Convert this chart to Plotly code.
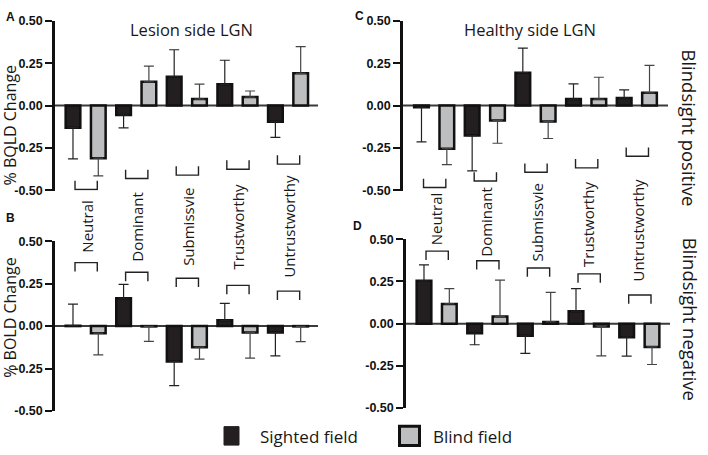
import plotly.graph_objects as go

W, H = 708, 455

# ---------------- data ----------------
categories = ["Neutral", "Dominant", "Submissvie", "Trustworthy", "Untrustworthy"]
ticks = [-0.5, -0.25, 0.0, 0.25, 0.5]
tick_text = ["-0.50", "-0.25", "0.00", "0.25", "0.50"]

# Panel A: Lesion side LGN, Blindsight positive
A_sighted = [-0.13, -0.055, 0.17, 0.125, -0.095]
A_sighted_sem = [0.184, 0.077, 0.159, 0.142, 0.093]
A_blind = [-0.31, 0.14, 0.038, 0.05, 0.19]
A_blind_sem = [0.104, 0.092, 0.088, 0.036, 0.158]

# Panel B: Lesion side LGN, Blindsight negative
B_sighted = [0.002, 0.164, -0.208, 0.034, -0.038]
B_sighted_sem = [0.128, 0.082, 0.143, 0.100, 0.138]
B_blind = [-0.042, -0.002, -0.124, -0.038, -0.002]
B_blind_sem = [0.128, 0.088, 0.071, 0.151, 0.090]

# Panel C: Healthy side LGN, Blindsight positive
C_sighted = [-0.01, -0.177, 0.194, 0.038, 0.045]
C_sighted_sem = [0.204, 0.208, 0.144, 0.090, 0.047]
C_blind = [-0.254, -0.088, -0.094, 0.038, 0.075]
C_blind_sem = [0.094, 0.134, 0.100, 0.129, 0.162]

# Panel D: Healthy side LGN, Blindsight negative
D_sighted = [0.254, -0.057, -0.072, 0.074, -0.080]
D_sighted_sem = [0.094, 0.068, 0.104, 0.134, 0.113]
D_blind = [0.117, 0.042, 0.010, -0.017, -0.138]
D_blind_sem = [0.091, 0.216, 0.176, 0.174, 0.104]

SIGHTED_COLOR = "#231f20"
BLIND_COLOR = "#bcbec0"


def px(x):
    return x / W


def py(y):
    return 1 - y / H


# ---------------- layout config ----------------
panels = [
    dict(s="", letter="A", sighted=A_sighted, ssem=A_sighted_sem, blind=A_blind, bsem=A_blind_sem,
         xdom=[55, 318], ydom=[15, 190], xr=[-0.711, 9.684],
         br=[-0.495, -0.43, -0.41, -0.375, -0.345], br_dir=1, letter_pos=(10, 11)),
    dict(s="2", letter="B", sighted=B_sighted, ssem=B_sighted_sem, blind=B_blind, bsem=B_blind_sem,
         xdom=[55, 318], ydom=[242, 417], xr=[-0.711, 9.684],
         br=[0.374, 0.317, 0.282, 0.240, 0.206], br_dir=-1, letter_pos=(10, 218)),
    dict(s="3", letter="C", sighted=C_sighted, ssem=C_sighted_sem, blind=C_blind, bsem=C_blind_sem,
         xdom=[403, 668], ydom=[15, 190], xr=[-0.73, 9.73],
         br=[-0.483, -0.445, -0.393, -0.367, -0.299], br_dir=1, letter_pos=(359, 10)),
    dict(s="4", letter="D", sighted=D_sighted, ssem=D_sighted_sem, blind=D_blind, bsem=D_blind_sem,
         xdom=[406, 670], ydom=[240, 414], xr=[-0.71, 9.71],
         br=[0.430, 0.373, 0.330, 0.295, 0.170], br_dir=-1, letter_pos=(357, 226)),
]

fig = go.Figure()
shapes = []
annotations = []
layout_axes = {}


def split_err(vals, sem):
    plus = [e if v >= 0 else 0 for v, e in zip(vals, sem)]
    minus = [e if v < 0 else 0 for v, e in zip(vals, sem)]
    return plus, minus


for p in panels:
    s = p["s"]
    xs_s = [2 * i for i in range(len(categories))]
    xs_b = [2 * i + 1 for i in range(len(categories))]
    for xs, vals, sem, col, ecol in [
        (xs_s, p["sighted"], p["ssem"], SIGHTED_COLOR, "#222222"),
        (xs_b, p["blind"], p["bsem"], BLIND_COLOR, "#444444"),
    ]:
        plus, minus = split_err(vals, sem)
        fig.add_trace(go.Bar(
            x=xs, y=vals, width=0.58,
            marker=dict(color=col, line=dict(color="#111111", width=2.5)),
            error_y=dict(type="data", symmetric=False, array=plus, arrayminus=minus,
                         color=ecol, thickness=1.2, width=5),
            xaxis="x" + s, yaxis="y" + s, showlegend=False, hoverinfo="skip",
        ))

    layout_axes["xaxis" + s] = dict(
        domain=[px(p["xdom"][0]), px(p["xdom"][1])], range=p["xr"],
        visible=False, anchor="y" + s, fixedrange=True)
    layout_axes["yaxis" + s] = dict(
        domain=[py(p["ydom"][1]), py(p["ydom"][0])], range=[-0.501, 0.501],
        anchor="x" + s, showline=True, linewidth=2.5, linecolor="#111111",
        ticks="outside", ticklen=7, tickwidth=2, tickcolor="#111111",
        tickvals=ticks, ticktext=[f"<b>{t}</b>" for t in tick_text],
        showgrid=False, zeroline=False,
        tickfont=dict(family="Liberation Sans, Arial", size=12.5, color="#111111"),
        fixedrange=True)

    # zero line
    shapes.append(dict(type="line", xref="x" + s + " domain", x0=0, x1=1,
                       yref="y" + s, y0=0, y1=0, layer="below",
                       line=dict(color="#3a3a3a", width=2)))

    # brackets
    for i, yl in enumerate(p["br"]):
        x0, x1 = 2 * i + 0.08, 2 * i + 0.96
        yt = yl + p["br_dir"] * 0.052
        shapes.append(dict(type="path", xref="x" + s, yref="y" + s,
                           path=f"M {x0},{yt} L {x0},{yl} L {x1},{yl} L {x1},{yt}",
                           line=dict(color="#222222", width=1.4)))

    # panel letter
    annotations.append(dict(text=f"<b>{p['letter']}</b>", xref="paper", yref="paper",
                            x=px(p["letter_pos"][0]), y=py(p["letter_pos"][1]),
                            showarrow=False, xanchor="center", yanchor="middle",
                            font=dict(family="Liberation Sans, Arial", size=12, color="#111111")))

# category labels between rows
left_label_y = [227, 227.5, 227, 227, 226.5]
right_label_y = [219, 222, 223, 225, 231]
for i, cat in enumerate(categories):
    annotations.append(dict(text=cat, xref="x", yref="paper", x=2 * i + 0.52, y=py(left_label_y[i]),
                            textangle=-90, showarrow=False, xanchor="center", yanchor="middle",
                            font=dict(family="Open Sans", size=15, color="#1a1718")))
    annotations.append(dict(text=cat, xref="x3", yref="paper", x=2 * i + 0.55, y=py(right_label_y[i]),
                            textangle=-90, showarrow=False, xanchor="center", yanchor="middle",
                            font=dict(family="Open Sans", size=15, color="#1a1718")))

text_font = dict(family="Open Sans", color="#1a1718")
# panel titles
annotations.append(dict(text="Lesion side LGN", xref="paper", yref="paper", x=px(191), y=py(24),
                        showarrow=False, xanchor="center", yanchor="middle", font=dict(size=16.5, **text_font)))
annotations.append(dict(text="Healthy side LGN", xref="paper", yref="paper", x=px(530), y=py(24),
                        showarrow=False, xanchor="center", yanchor="middle", font=dict(size=16.5, **text_font)))
# y titles
for yc in (123, 321):
    annotations.append(dict(text="% BOLD Change", xref="paper", yref="paper", x=px(10), y=py(yc),
                            textangle=-90, showarrow=False, xanchor="center", yanchor="middle",
                            font=dict(size=16, **text_font)))
# row labels on the right
annotations.append(dict(text="Blindsight positive", xref="paper", yref="paper", x=px(690), y=py(125),
                        textangle=90, showarrow=False, xanchor="center", yanchor="middle",
                        font=dict(size=18.5, **text_font)))
annotations.append(dict(text="Blindsight negative", xref="paper", yref="paper", x=px(690), y=py(322),
                        textangle=90, showarrow=False, xanchor="center", yanchor="middle",
                        font=dict(size=18.5, **text_font)))

# legend
shapes.append(dict(type="rect", xref="paper", yref="paper", x0=px(224), x1=px(239), y0=py(452), y1=py(433),
                   fillcolor=SIGHTED_COLOR, line=dict(color=SIGHTED_COLOR, width=1)))
shapes.append(dict(type="rect", xref="paper", yref="paper", x0=px(399.5), x1=px(419.5), y0=py(452.5), y1=py(432.5),
                   fillcolor=BLIND_COLOR, line=dict(color="#111111", width=3)))
annotations.append(dict(text="Sighted field", xref="paper", yref="paper", x=px(258), y=py(443),
                        showarrow=False, xanchor="left", yanchor="middle", font=dict(size=17, **text_font)))
annotations.append(dict(text="Blind field", xref="paper", yref="paper", x=px(431), y=py(443),
                        showarrow=False, xanchor="left", yanchor="middle", font=dict(size=17, **text_font)))

fig.update_layout(
    width=W, height=H,
    margin=dict(l=0, r=0, t=0, b=0),
    paper_bgcolor="white", plot_bgcolor="white",
    barmode="overlay", showlegend=False,
    shapes=shapes, annotations=annotations,
    **layout_axes,
)

fig.write_html("out.html", config={"displayModeBar": False},
               post_script="document.body.style.margin='0px';document.body.style.overflow='hidden';")
